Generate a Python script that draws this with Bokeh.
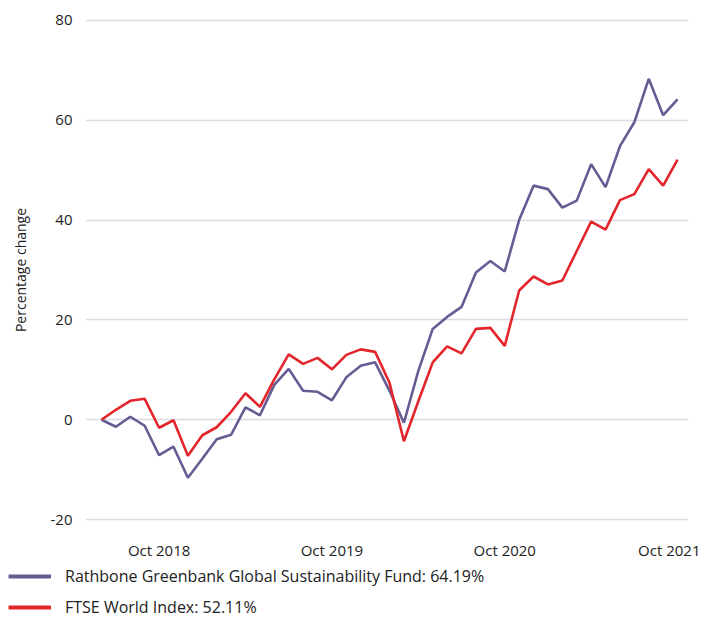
from bokeh.plotting import figure
from bokeh.layouts import column, row
from bokeh.models import Range1d, FixedTicker, Legend, LegendItem
from bokeh.embed import file_html
from bokeh.resources import INLINE
import pandas as pd

months = [d.strftime("%b %Y") for d in pd.date_range("2018-06-01", "2021-10-01", freq="MS")]

fund = [0.0, -1.4, 0.6, -1.2, -7.1, -5.4, -11.6, -7.8, -3.9, -3.0,
        2.5, 0.9, 7.0, 10.2, 5.8, 5.6, 3.9, 8.5, 10.8, 11.5,
        5.8, -0.6, 9.8, 18.2, 20.6, 22.6, 29.5, 31.8, 29.7, 40.0,
        46.9, 46.2, 42.5, 43.9, 51.2, 46.6, 54.8, 59.6, 68.3, 61.0,
        64.19]
ftse = [0.0, 2.0, 3.8, 4.2, -1.6, -0.1, -7.2, -3.1, -1.5, 1.6,
        5.3, 2.6, 8.1, 13.1, 11.2, 12.4, 10.1, 13.0, 14.1, 13.6,
        7.4, -4.3, 3.7, 11.5, 14.7, 13.3, 18.2, 18.4, 14.8, 25.9,
        28.7, 27.1, 27.9, 33.8, 39.7, 38.1, 44.0, 45.2, 50.2, 46.9,
        52.11]

tick_labels = ["Oct 2018", "Oct 2019", "Oct 2020", "Oct 2021"]
y_ticks = [-20, 0, 20, 40, 60, 80]
y_tick_labels = ["-20", "0", "20", "40", "60", "80"]
fund_label = "Rathbone Greenbank Global Sustainability Fund: 64.19%"
ftse_label = "FTSE World Index: 52.11%"

x = list(range(len(months)))
tick_pos = [months.index(t) for t in tick_labels]

FONT = "Open Sans"
TXT = "#222222"
PURPLE = "#665c94"
RED = "#e2262b"

p = figure(width=700, height=562, output_backend="svg", toolbar_location=None,
           x_range=Range1d(-1.11, 40.76), y_range=Range1d(-20.98, 80.98),
           min_border_left=85, min_border_right=12, min_border_top=15, min_border_bottom=30)
p.outline_line_color = None
p.background_fill_color = "white"
p.border_fill_color = "white"

p.xgrid.grid_line_color = None
p.ygrid.grid_line_color = "#dcdae6"
p.ygrid.grid_line_width = 1.3

p.xaxis.ticker = FixedTicker(ticks=tick_pos)
p.xaxis.major_label_overrides = {pos: lab for pos, lab in zip(tick_pos, tick_labels)}
p.yaxis.ticker = FixedTicker(ticks=y_ticks)
p.yaxis.major_label_overrides = {v: lab for v, lab in zip(y_ticks, y_tick_labels)}
p.yaxis.axis_label = "Percentage change"

for ax in (p.xaxis[0], p.yaxis[0]):
    ax.axis_line_color = None
    ax.major_tick_line_color = None
    ax.minor_tick_line_color = None
    ax.major_label_text_font = FONT
    ax.major_label_text_font_size = "15px"
    ax.major_label_text_color = TXT
p.xaxis.major_label_standoff = 9
p.yaxis.major_label_standoff = 7
p.yaxis.axis_label_text_font = FONT
p.yaxis.axis_label_text_font_size = "14px"
p.yaxis.axis_label_text_font_style = "normal"
p.yaxis.axis_label_text_color = TXT
p.yaxis.axis_label_standoff = 18

r1 = p.line(x, fund, line_color=PURPLE, line_width=2.6)
r2 = p.line(x, ftse, line_color=RED, line_width=2.6)

# legend panel below the chart (its lines are kept outside its visible range)
lf = figure(width=700, height=56, output_backend="svg", toolbar_location=None,
            x_range=Range1d(1000, 1001), y_range=Range1d(1000, 1001),
            x_axis_type=None, y_axis_type=None,
            min_border_left=0, min_border_right=0, min_border_top=0, min_border_bottom=0)
lf.outline_line_color = None
lf.xgrid.grid_line_color = None
lf.ygrid.grid_line_color = None
lr1 = lf.line(x, fund, line_color=PURPLE, line_width=4)
lr2 = lf.line(x, ftse, line_color=RED, line_width=4)

legend = Legend(items=[LegendItem(label=fund_label, renderers=[lr1]),
                       LegendItem(label=ftse_label, renderers=[lr2])],
                location=(8, 0))
legend.glyph_width = 43
legend.glyph_height = 20
legend.label_height = 20
legend.spacing = 9
legend.padding = 0
legend.margin = 0
legend.label_standoff = 14
legend.label_text_font = FONT
legend.label_text_font_size = "16px"
legend.label_text_color = TXT
legend.border_line_alpha = 0
legend.background_fill_alpha = 0
lf.add_layout(legend)

open("out.html", "w").write(file_html(column(p, row(lf), spacing=0), INLINE))
